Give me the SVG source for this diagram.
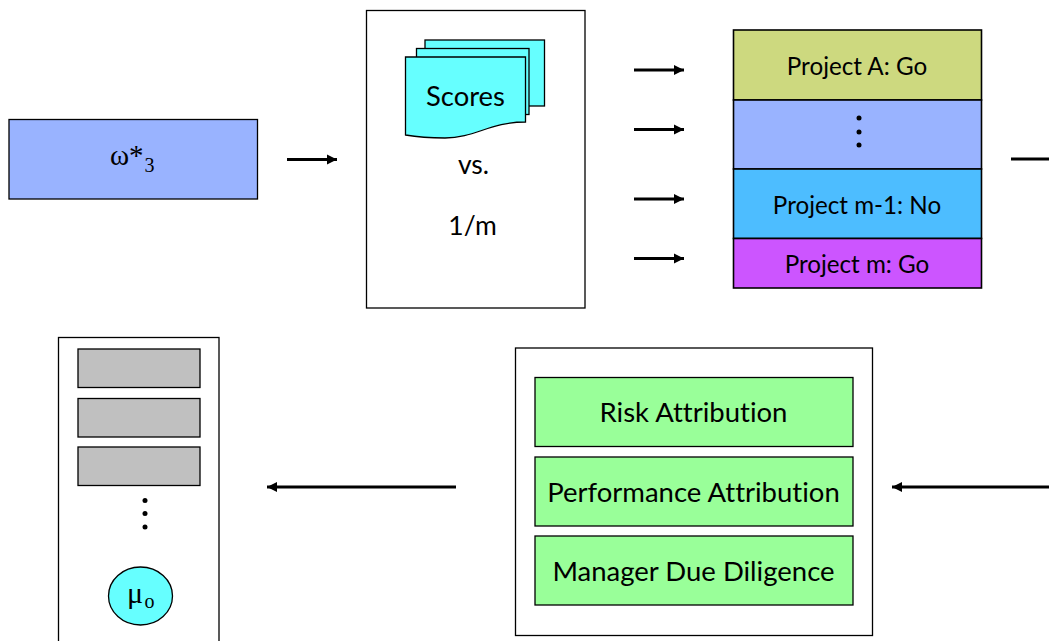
<svg xmlns="http://www.w3.org/2000/svg" width="1049" height="641" viewBox="0 0 1049 641">
<style>
.b{stroke:#000;stroke-width:1.3}
.p{stroke:#000;stroke-width:1.6}
.t{font-family:Lato,"Noto Sans",sans-serif;fill:#000;text-anchor:middle;font-variant-ligatures:none}
.s{font-family:"Liberation Serif",serif;fill:#000}
.c{stroke:#000;stroke-width:3;fill:none}
</style>
<defs>
<marker id="a" markerUnits="userSpaceOnUse" markerWidth="11" markerHeight="12" refX="10" refY="6" orient="auto"><path d="M0 1L10 6L0 11z" fill="#000"/></marker>
</defs>
<rect width="1049" height="641" fill="#fff"/>
<g id="connectors">
<path class="c" d="M287 159.500H337" marker-end="url(#a)"/>
<path class="c" d="M634 70H684" marker-end="url(#a)"/>
<path class="c" d="M634 129.500H684" marker-end="url(#a)"/>
<path class="c" d="M634 199H684" marker-end="url(#a)"/>
<path class="c" d="M634 258.500H684" marker-end="url(#a)"/>
<path class="c" d="M1011 159H1049"/>
<path class="c" d="M1049 487H892" marker-end="url(#a)"/>
<path class="c" d="M456 487H267" marker-end="url(#a)"/>
</g>
<g id="omega">
<rect class="b" x="9" y="119.500" width="248.500" height="79.500" fill="#99b3ff"/>
<text class="s" x="110" y="165" font-size="29">ω*</text><text class="s" x="144.500" y="172" font-size="20">3</text>
</g>
<g id="scores">
<rect class="b" x="366.500" y="10.500" width="218.500" height="297.500" fill="#fff"/>
<rect class="b" x="425" y="40" width="119.500" height="66" fill="#66ffff"/>
<rect class="b" x="416.500" y="48.500" width="112.500" height="66" fill="#66ffff"/>
<path class="b" d="M405.500 57H525.500V122C490 122 475 138 445 138C430 138 417 137 405.500 135z" fill="#66ffff"/>
<text class="t" x="465.500" y="106" font-size="27.400">Scores</text>
<text class="t" x="473.500" y="174" font-size="26.500">vs.</text>
<text class="t" x="472.500" y="235" font-size="26.500">1/m</text>
</g>
<g id="projects">
<rect class="p" x="733.500" y="30" width="248" height="70" fill="#cdd97f"/>
<text class="t" x="857" y="75" font-size="24.200">Project A: Go</text>
<rect class="p" x="733.500" y="100" width="248" height="69" fill="#99b3ff"/>
<circle cx="859" cy="118" r="2.500"/><circle cx="859" cy="132" r="2.500"/><circle cx="859" cy="145" r="2.500"/>
<rect class="p" x="733.500" y="169" width="248" height="69.500" fill="#4dbdff"/>
<text class="t" x="857" y="214" font-size="24.200">Project m-1: No</text>
<rect class="p" x="733.500" y="238.500" width="248" height="49.500" fill="#cc55ff"/>
<text class="t" x="857" y="273" font-size="24.200">Project m: Go</text>
</g>
<g id="attribution">
<rect class="b" x="515.500" y="348" width="357" height="287.500" fill="#fff"/>
<rect class="b" x="535" y="377.500" width="318" height="69" fill="#99ff99"/>
<text class="t" x="693.500" y="422" font-size="27.500">Risk Attribution</text>
<rect class="b" x="535" y="457" width="318" height="69" fill="#99ff99"/>
<text class="t" x="693.500" y="502" font-size="27.500">Performance Attribution</text>
<rect class="b" x="535" y="536" width="318" height="69" fill="#99ff99"/>
<text class="t" x="693.500" y="581" font-size="27.500">Manager Due Diligence</text>
</g>
<g id="portfolio">
<rect class="b" x="58.500" y="337.500" width="160.500" height="310" fill="#fff"/>
<rect class="b" x="78" y="349" width="122" height="38.500" fill="#c0c0c0"/>
<rect class="b" x="78" y="398.500" width="122" height="38.500" fill="#c0c0c0"/>
<rect class="b" x="78" y="447" width="122" height="38.500" fill="#c0c0c0"/>
<circle cx="145" cy="500.500" r="2.500"/><circle cx="145" cy="513.500" r="2.500"/><circle cx="145" cy="527" r="2.500"/>
<ellipse class="b" cx="140.500" cy="596" rx="32" ry="29" fill="#66ffff"/>
<text class="s" x="127" y="603" font-size="30">μ</text><text class="s" x="144.500" y="608" font-size="20">o</text>
</g>
</svg>
